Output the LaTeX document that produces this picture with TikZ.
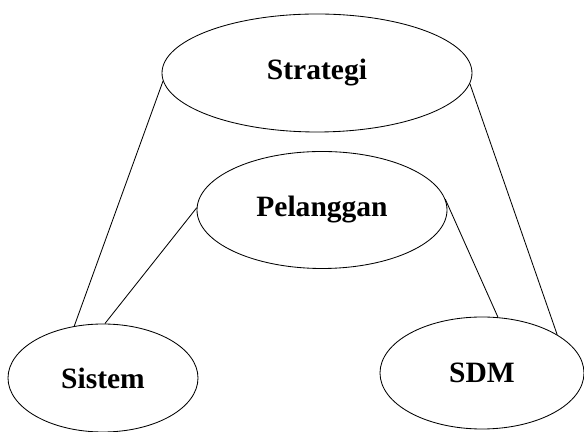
\documentclass[tikz,border=0pt]{standalone}
\usepackage{fontspec}
\setmainfont{Liberation Serif}
\usetikzlibrary{shapes.geometric}

\begin{document}
\begin{tikzpicture}[
    font=\fontsize{21pt}{25pt}\selectfont\bfseries,
    topicEllipse/.style={
        ellipse,
        draw=black,
        fill=white,
        line width=0.6pt,
        inner sep=0pt
    },
    linkLine/.style={
        line width=0.6pt,
        draw=black
    }
]

\useasboundingbox (0,0) rectangle (14.6,10.8);

% ==================== ELLIPSES ====================
\node[topicEllipse, minimum width=7.75cm, minimum height=2.95cm] (ellStrategi) at (7.925, 8.975) {Strategi};
\node[topicEllipse, minimum width=6.25cm, minimum height=2.925cm] (ellPelanggan) at (8.05, 5.55) {Pelanggan};
\node[topicEllipse, minimum width=4.75cm, minimum height=2.7cm] (ellSistem) at (2.575, 1.35) {Sistem};
\node[topicEllipse, minimum width=5.1cm, minimum height=2.8cm] (ellSDM) at (12.05, 1.475) {SDM};

% ==================== LINKS ====================
\draw[linkLine] (ellStrategi.183) -- (ellSistem.119);
\draw[linkLine] (ellStrategi.-4) -- (ellSDM.27);
\draw[linkLine] (ellPelanggan.179) -- (ellSistem.88);
\draw[linkLine] (ellPelanggan.5) -- (ellSDM.74);

\end{tikzpicture}
\end{document}
